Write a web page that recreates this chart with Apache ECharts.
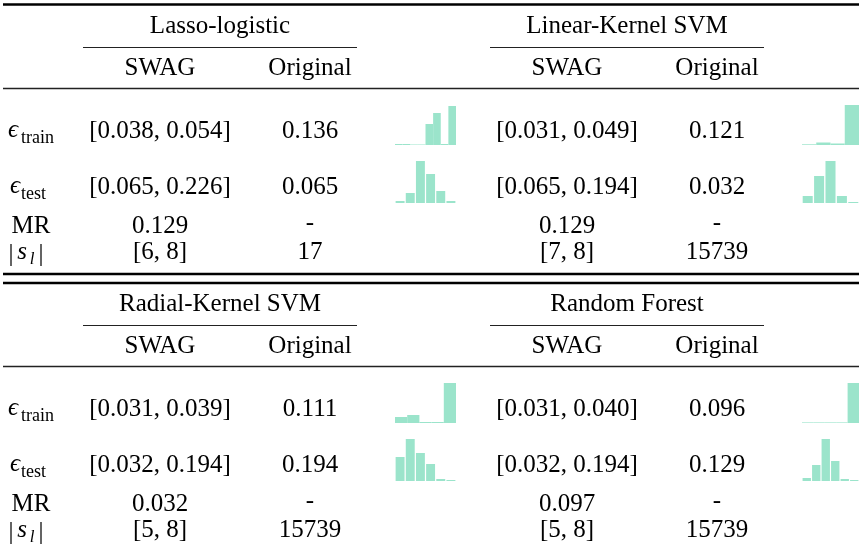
<!DOCTYPE html>
<html>
<head>
<meta charset="utf-8">
<script src="https://cdn.jsdelivr.net/npm/echarts@6/dist/echarts.min.js"></script>
<style>
  html, body { margin: 0; padding: 0; background: #fff; }
  #chart { width: 859px; height: 550px; }
</style>
</head>
<body>
<div id="chart"></div>
<script>
// table content
var models = ['Lasso-logistic', 'Linear-Kernel SVM', 'Radial-Kernel SVM', 'Random Forest'];
var colHeaders = ['SWAG', 'Original'];
var trainSwag = ['[0.038, 0.054]', '[0.031, 0.049]', '[0.031, 0.039]', '[0.031, 0.040]'];
var trainOrig = ['0.136', '0.121', '0.111', '0.096'];
var testSwag = ['[0.065, 0.226]', '[0.065, 0.194]', '[0.032, 0.194]', '[0.032, 0.194]'];
var testOrig = ['0.065', '0.032', '0.194', '0.129'];
var mrSwag = ['0.129', '0.129', '0.032', '0.097'];
var mrOrig = ['-', '-', '-', '-'];
var sizeSwag = ['[6, 8]', '[7, 8]', '[5, 8]', '[5, 8]'];
var sizeOrig = ['17', '15739', '15739', '15739'];

// mini histograms (relative heights)
var trainHist = [
  [1, 1, 0.5, 0.5, 21, 32, 1, 39],
  [0.7, 2.5, 1.5, 40],
  [6, 8, 1, 1, 40],
  [0.6, 0.6, 0.6, 0.6, 40]
];
var testHist = [
  [2, 10, 42, 29, 12, 2],
  [7, 27, 42, 7, 1],
  [24, 42, 28, 17, 2, 1],
  [3, 16, 42, 20, 2, 1]
];

var FONT = '"Liberation Serif", "DejaVu Serif", serif';
var BAR_COLOR = '#9be4cb';
var COL_DX = 407, ROW_DY = 278;

var chart = echarts.init(document.getElementById('chart'));

// text helper: y is the baseline
function txt(x, base, s, size, opt) {
  opt = opt || {};
  return {
    type: 'text',
    x: x,
    y: base - 0.34 * size,
    silent: true,
    style: {
      text: s,
      fontFamily: FONT,
      fontSize: size,
      fontStyle: opt.italic ? 'italic' : 'normal',
      fill: '#000',
      align: opt.align || 'center',
      verticalAlign: 'middle'
    }
  };
}
function rule(x1, x2, y, w, c) {
  return {
    type: 'line',
    silent: true,
    shape: { x1: x1, y1: y, x2: x2, y2: y },
    style: { stroke: c || '#000', lineWidth: w }
  };
}

var graphics = [];
var grids = [], xAxes = [], yAxes = [], series = [];

// horizontal rules
graphics.push(rule(3, 859, 4.5, 2.5));
graphics.push(rule(3, 859, 274, 2.5));
graphics.push(rule(3, 859, 283, 2.5));
for (var h = 0; h < 2; h++) {
  var oy = h * ROW_DY;
  graphics.push(rule(3, 859, 88.5 + oy, 1.4, '#222'));
  for (var c = 0; c < 2; c++) {
    graphics.push(rule(83 + c * COL_DX, 357 + c * COL_DX, 47.5 + oy, 1.2, '#222'));
  }
  // row labels
  graphics.push(txt(8, 139 + oy, '\u03f5', 25, { italic: true, align: 'left' }));
  graphics.push(txt(21, 144 + oy, 'train', 18, { align: 'left' }));
  graphics.push(txt(10, 195 + oy, '\u03f5', 25, { italic: true, align: 'left' }));
  graphics.push(txt(21, 200 + oy, 'test', 18, { align: 'left' }));
  graphics.push(txt(31, 235 + oy, 'MR', 25));
  graphics.push(txt(11, 263 + oy, '|', 25));
  graphics.push(txt(22, 261 + oy, 's', 25, { italic: true }));
  graphics.push(txt(32, 265 + oy, 'l', 17, { italic: true }));
  graphics.push(txt(41, 263 + oy, '|', 25));
}

function addHist(idx, data, left, top, gap) {
  grids.push({ left: left, top: top, width: 61, height: 42 });
  xAxes.push({
    type: 'category', gridIndex: idx, show: false,
    data: data.map(function (v, k) { return k; })
  });
  yAxes.push({ type: 'value', gridIndex: idx, show: false, min: 0, max: 42 });
  series.push({
    type: 'bar', xAxisIndex: idx, yAxisIndex: idx,
    data: data, barCategoryGap: gap,
    itemStyle: { color: BAR_COLOR },
    silent: true
  });
}

for (var i = 0; i < models.length; i++) {
  var dx = (i % 2) * COL_DX;
  var dy = Math.floor(i / 2) * ROW_DY;
  var cS = 160 + dx, cO = 310 + dx;

  graphics.push(txt(220 + dx, 35 + dy, models[i], 25));
  graphics.push(txt(cS, 77 + dy, colHeaders[0], 25));
  graphics.push(txt(cO, 77 + dy, colHeaders[1], 25));

  graphics.push(txt(cS, 140 + dy, trainSwag[i], 25));
  graphics.push(txt(cO, 140 + dy, trainOrig[i], 25));
  graphics.push(txt(cS, 196 + dy, testSwag[i], 25));
  graphics.push(txt(cO, 196 + dy, testOrig[i], 25));
  graphics.push(txt(cS, 235 + dy, mrSwag[i], 25));
  graphics.push(txt(cO, 232 + dy, mrOrig[i], 25));
  graphics.push(txt(cS, 261 + dy, sizeSwag[i], 25));
  graphics.push(txt(cO, 261 + dy, sizeOrig[i], 25));

  addHist(i * 2, trainHist[i], 395 + dx, 103 + dy, '0%');
  addHist(i * 2 + 1, testHist[i], 395 + dx, 161 + dy, '12%');
}

chart.setOption({
  animation: false,
  grid: grids,
  xAxis: xAxes,
  yAxis: yAxes,
  series: series,
  graphic: { elements: graphics }
});
</script>
</body>
</html>
